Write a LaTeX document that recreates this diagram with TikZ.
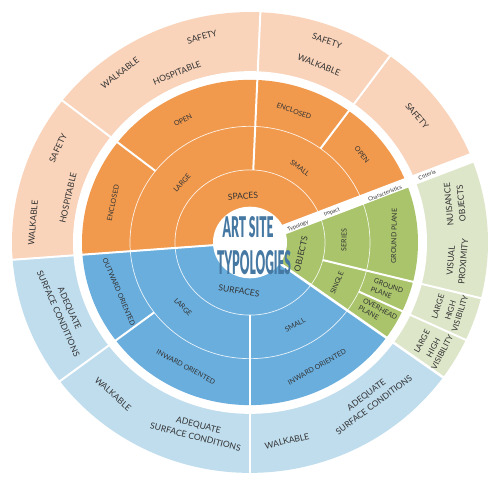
\documentclass[tikz,border=0pt]{standalone}
\usepackage{fontspec}
\usepackage{graphicx}
\setmainfont{Lato}
\definecolor{orng}{HTML}{F19A4E}
\definecolor{lorng}{HTML}{F9D3BA}
\definecolor{blu}{HTML}{6AAEDD}
\definecolor{lblu}{HTML}{C0DDEE}
\definecolor{grn}{HTML}{A9C46B}
\definecolor{lgrn}{HTML}{DDE6C9}
\definecolor{ttl}{HTML}{4578A2}
\definecolor{txt}{HTML}{333333}
\begin{document}
\begin{tikzpicture}[x=1pt,y=1pt,
  outer/.style={text=txt, inner sep=0pt, align=center, font=\fontsize{8.6}{12.5}\selectfont},
  gouter/.style={text=txt, inner sep=0pt, align=center, font=\fontsize{8}{10}\selectfont},
  inner/.style={text=txt, inner sep=0pt, align=center, font=\fontsize{7}{9}\selectfont},
  typo/.style={text=txt, inner sep=0pt, font=\fontsize{8.5}{10}\selectfont},
  tiny/.style={text=txt, inner sep=0pt, font=\fontsize{5.5}{6}\selectfont},
  divider/.style={white, line width=2pt},
  ringline/.style={white, line width=0.7pt, opacity=0.85},
  title/.style={text=ttl, inner sep=0pt}]
\useasboundingbox (0,0) rectangle (495,489);
\fill[white] (0,0) rectangle (495,489);
\begin{scope}[shift={(250,246.5)}, yscale=0.968]
  % criteria ring
  \fill[lorng] (0,0) -- (21.5:238) arc[start angle=21.5, end angle=184.3, radius=238] -- cycle;
  \fill[lgrn] (0,0) -- (-35.8:238) arc[start angle=-35.8, end angle=21.5, radius=238] -- cycle;
  \fill[lblu] (0,0) -- (184.3:238) arc[start angle=184.3, end angle=324.2, radius=238] -- cycle;
  \fill[white] (0,0) circle[radius=177];
  % inner rings
  \fill[orng] (0,0) -- (21.5:168) arc[start angle=21.5, end angle=184.3, radius=168] -- cycle;
  \fill[grn] (0,0) -- (-35.8:168) arc[start angle=-35.8, end angle=21.5, radius=168] -- cycle;
  \fill[blu] (0,0) -- (184.3:168) arc[start angle=184.3, end angle=324.2, radius=168] -- cycle;
  \draw[ringline] (0,0) circle[radius=75];
  \draw[ringline] (0,0) circle[radius=120];
  % dividers
  \draw[divider] (87.5:75) -- (87.5:240);
  \draw[divider] (142:120) -- (142:240);
  \draw[divider] (54:120) -- (54:240);
  \draw[divider] (184.3:30) -- (184.3:240);
  \draw[divider] (270:75) -- (270:240);
  \draw[divider] (217:120) -- (217:240);
  \draw[divider, line width=2.5pt] (-35.8:30) -- (-35.8:240);
  \draw[divider] (-14:75) -- (-14:240);
  \draw[divider] (-25:120) -- (-25:240);
  \draw[white, line width=10pt] (0,0) -- (21.5:250);
  \fill[white] (0,0) circle[radius=37];
\end{scope}
% orange criteria
\node[outer, rotate=16] (o1) at (202,452) {SAFETY};
\node[outer, rotate=37] (o2) at (120,416) {WALKABLE};
\node[outer, rotate=22] (o3) at (177,416) {HOSPITABLE};
\node[outer, rotate=65] (o4) at (58,341) {SAFETY};
\node[outer, rotate=77] (o5) at (68,291) {HOSPITABLE};
\node[outer, rotate=85] (o6) at (33,266) {WALKABLE};
\node[outer, rotate=-19] (o7) at (327,448) {SAFETY};
\node[outer, rotate=-22] (o8) at (319,424) {WALKABLE};
\node[outer, rotate=-50] (o9) at (417,373) {SAFETY};
% orange inner
\node[inner, rotate=28] (i1) at (183,369) {OPEN};
\node[inner, rotate=78] (i2) at (113,286) {ENCLOSED};
\node[inner, rotate=48] (i3) at (182,306) {LARGE};
\node[typo, rotate=4] (i4) at (243,293) {SPACES};
\node[inner, rotate=-38] (i5) at (300,321) {SMALL};
\node[inner, rotate=-20] (i6) at (294,378) {ENCLOSED};
\node[inner, rotate=-52] (i7) at (362,334) {OPEN};
% blue inner
\node[typo, rotate=-10] (b1) at (239,198) {SURFACES};
\node[inner, rotate=-45] (b2) at (183,182) {LARGE};
\node[inner, rotate=-67] (b3) at (119,197) {OUTWARD ORIENTED};
\node[inner, rotate=-28] (b4) at (186,122) {INWARD ORIENTED};
\node[inner, rotate=29] (b5) at (295,164) {SMALL};
\node[inner, rotate=29] (b6) at (317,122) {INWARD ORIENTED};
% blue criteria
\node[outer, rotate=-66] (c1) at (64,178) {ADEQUATE\\SURFACE CONDITIONS};
\node[outer, rotate=-42] (c2) at (113,95) {WALKABLE};
\node[outer, rotate=-14] (c3) at (197,58) {ADEQUATE\\SURFACE CONDITIONS};
\node[outer, rotate=13] (c4) at (287,48) {WALKABLE};
\node[outer, rotate=37] (c5) at (370,89) {ADEQUATE\\SURFACE CONDITIONS};
% green inner
\node[typo, rotate=77] (g1) at (301,235) {OBJECTS};
\node[inner, rotate=89] (g2) at (344,249) {SERIES};
\node[inner, rotate=89] (g3) at (394,253) {GROUND PLANE};
\node[inner, rotate=67] (g4) at (337,206) {SINGLE};
\node[inner, rotate=-21, align=left] (g5) at (387,199) {GROUND\\PLANE};
\node[inner, rotate=-29, align=left] (g6) at (378,176) {OVERHEAD\\PLANE};
% green criteria
\node[outer, rotate=95] (h1) at (455,285) {NUISANCE\\OBJECTS};
\node[outer, rotate=85] (h2) at (457,228) {VISUAL\\PROXIMITY};
\node[gouter, rotate=72] (h3) at (449,179) {LARGE\\[3pt]HIGH\\VISIBILITY};
\node[gouter, rotate=62] (h4) at (432,142) {LARGE\\[3pt]HIGH\\VISIBILITY};
% strip labels
\node[tiny, rotate=22] (s1) at (298,263) {Typology};
\node[tiny, rotate=22] (s2) at (332,277) {Impact};
\node[tiny, rotate=22] (s3) at (385,296) {Characteristics};
\node[tiny, rotate=22] (s4) at (427,314) {Criteria};
% title
\node[title] (t1) at (248,262) {\resizebox{51pt}{21pt}{\fontspec{Lato Black}ART SITE}};
\node[title] (t2) at (254,226) {\resizebox{74pt}{24pt}{\fontspec{Lato Black}TYPOLOGIES}};
\end{tikzpicture}
\end{document}
